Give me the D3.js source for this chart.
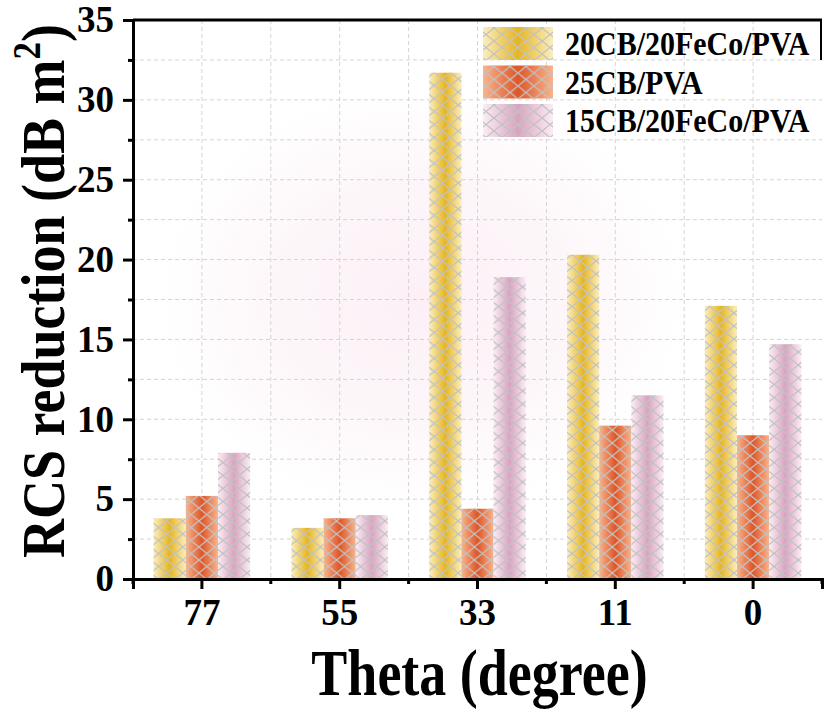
<!DOCTYPE html>
<html>
<head>
<meta charset="utf-8">
<script src="https://cdn.jsdelivr.net/npm/d3@7"></script>
<style>
  body { margin: 0; background: #fff; }
  text { font-family: "Liberation Serif", "Times New Roman", serif; font-weight: bold; }
</style>
</head>
<body>
<div id="chart"></div>
<script>
// data
const categories = ["77", "55", "33", "11", "0"];
const seriesNames = ["20CB/20FeCo/PVA", "25CB/PVA", "15CB/20FeCo/PVA"];
const cb20FeCo = [3.8, 3.2, 31.7, 20.3, 17.1];
const cb25 = [5.2, 3.8, 4.4, 9.6, 9.0];
const cb15FeCo = [7.9, 4.0, 18.9, 11.5, 14.7];
const yTicks = [0, 5, 10, 15, 20, 25, 30, 35];
const yMinorTicks = [2.5, 7.5, 12.5, 17.5, 22.5, 27.5, 32.5];

const width = 827, height = 710;
const margin = { top: 20, right: 5, bottom: 131, left: 133 };
const plotW = width - margin.left - margin.right;
const plotH = height - margin.top - margin.bottom;

// edge colour, centre colour for each series
const colors = [
    ["#fbeec0", "#e6b51f"],
    ["#f9b48c", "#dd5628"],
    ["#fbedf4", "#d8a3c0"]
];

const seriesData = [cb20FeCo, cb25, cb15FeCo];

const svg = d3.select("#chart")
    .append("svg")
    .attr("width", width)
    .attr("height", height);

const defs = svg.append("defs");

// faint pink glow in the middle of the plot
const glow = defs.append("radialGradient")
    .attr("id", "glow")
    .attr("cx", 0.42).attr("cy", 0.5).attr("r", 0.38);
glow.append("stop").attr("offset", 0).attr("stop-color", "#fcf0f6");
glow.append("stop").attr("offset", 0.55).attr("stop-color", "#fdf6f9");
glow.append("stop").attr("offset", 1).attr("stop-color", "#ffffff");

colors.forEach((c, i) => {
    const g = defs.append("linearGradient")
        .attr("id", "grad" + i)
        .attr("x1", 0).attr("x2", 1).attr("y1", 0).attr("y2", 0);
    g.append("stop").attr("offset", 0).attr("stop-color", c[0]);
    g.append("stop").attr("offset", 0.5).attr("stop-color", c[1]);
    g.append("stop").attr("offset", 1).attr("stop-color", c[0]);
});

// diamond hatch, one pattern per bar so it lines up with the bar edge
let patternCount = 0;
function hatch(x0, y0) {
    const id = "hatch" + (patternCount++);
    const p = defs.append("pattern")
        .attr("id", id)
        .attr("patternUnits", "userSpaceOnUse")
        .attr("x", x0).attr("y", y0)
        .attr("width", 16).attr("height", 13);
    p.append("path")
        .attr("d", "M0,6.5 L8,0 L16,6.5 L8,13 Z")
        .attr("fill", "none")
        .attr("stroke", "#c2c2c2")
        .attr("stroke-width", 1.3);
    return "url(#" + id + ")";
}

const g = svg.append("g")
    .attr("transform", `translate(${margin.left}, ${margin.top})`);

const x = d3.scaleBand()
    .domain(categories)
    .range([0, plotW]);

const xInner = d3.scaleBand()
    .domain(seriesNames)
    .range([0, x.bandwidth() * 0.7]);

const y = d3.scaleLinear()
    .domain([0, 35])
    .range([plotH, 0]);

g.append("rect")
    .attr("width", plotW)
    .attr("height", plotH)
    .attr("fill", "url(#glow)");

// grid lines
const gridY = yTicks.concat(yMinorTicks).filter(v => v > 0 && v < 35);
g.selectAll(".gy")
    .data(gridY)
    .join("line")
    .attr("x1", 0).attr("x2", plotW)
    .attr("y1", d => y(d)).attr("y2", d => y(d))
    .attr("stroke", "#d4d4d4")
    .attr("stroke-dasharray", "4,3");

const gridX = [];
categories.forEach((c, i) => {
    gridX.push(x(c) + x.bandwidth() / 2);
    if (i > 0) gridX.push(x(c));
});
g.selectAll(".gx")
    .data(gridX)
    .join("line")
    .attr("x1", d => d).attr("x2", d => d)
    .attr("y1", 0).attr("y2", plotH)
    .attr("stroke", "#d4d4d4")
    .attr("stroke-dasharray", "4,3");

// bars
seriesNames.forEach((name, si) => {
    const values = seriesData[si];
    categories.forEach((cat, ci) => {
        const bx = x(cat) + x.bandwidth() * 0.15 + xInner(name);
        const by = y(values[ci]);
        const bw = xInner.bandwidth();
        const bh = plotH - by;
        g.append("rect")
            .attr("x", bx).attr("y", by)
            .attr("width", bw).attr("height", bh)
            .attr("fill", "url(#grad" + si + ")");
        g.append("rect")
            .attr("x", bx).attr("y", by)
            .attr("width", bw).attr("height", bh)
            .attr("fill", hatch(margin.left + bx, margin.top + plotH));
    });
});

// y axis
const yAxis = g.append("g")
    .call(d3.axisLeft(y).tickValues(yTicks).tickSize(10).tickPadding(9));
yAxis.selectAll("text").attr("font-size", "37px").attr("fill", "#000");
yAxis.append("g")
    .call(d3.axisLeft(y).tickValues(yMinorTicks).tickSize(5).tickFormat(""))
    .select(".domain").remove();

// x axis
const xAxis = g.append("g")
    .attr("transform", `translate(0, ${plotH})`)
    .call(d3.axisBottom(x).tickSize(10).tickPadding(10));
xAxis.selectAll("text").attr("font-size", "37px").attr("fill", "#000");
xAxis.append("g")
    .call(d3.axisBottom(x).tickValues(categories).tickSize(5).tickFormat(""))
    .selectAll(".tick")
    .attr("transform", d => `translate(${x(d)},0)`);
xAxis.select("g").select(".domain").remove();
g.append("line")
    .attr("x1", plotW).attr("x2", plotW)
    .attr("y1", plotH).attr("y2", plotH + 5)
    .attr("stroke", "#000").attr("stroke-width", 3);

svg.selectAll(".domain, .tick line")
    .attr("stroke", "#000")
    .attr("stroke-width", 3);

// top frame and the short right edge next to the legend
g.append("line")
    .attr("x1", 0).attr("x2", plotW)
    .attr("y1", 0).attr("y2", 0)
    .attr("stroke", "#000").attr("stroke-width", 3);
g.append("line")
    .attr("x1", plotW - 1).attr("x2", plotW - 1)
    .attr("y1", 0).attr("y2", 40)
    .attr("stroke", "#000").attr("stroke-width", 2);

// legend
const legend = svg.append("g").attr("transform", "translate(483, 27)");
seriesNames.forEach((name, i) => {
    const ly = i * 38.5;
    legend.append("rect")
        .attr("x", 0).attr("y", ly)
        .attr("width", 70).attr("height", 33)
        .attr("fill", "url(#grad" + i + ")");
    legend.append("rect")
        .attr("x", 0).attr("y", ly)
        .attr("width", 70).attr("height", 33)
        .attr("fill", hatch(483, 27 + ly));
    legend.append("text")
        .attr("transform", `translate(82, ${ly + 28}) scale(1, 1.15)`)
        .attr("font-size", "30px")
        .text(name);
});

// axis titles
svg.append("text")
    .attr("transform", `translate(${margin.left + plotW / 2 + 2}, 695) scale(1, 1.2)`)
    .attr("text-anchor", "middle")
    .attr("font-size", "54px")
    .text("Theta (degree)");

const yTitle = svg.append("text")
    .attr("transform", `translate(64, 291) rotate(-90) scale(1, 1.15)`)
    .attr("text-anchor", "middle")
    .attr("font-size", "54px");
yTitle.append("tspan").text("RCS reduction (dB m");
yTitle.append("tspan").attr("font-size", "35px").attr("dy", -21).text("2");
yTitle.append("tspan").attr("dy", 21).text(")");
</script>
</body>
</html>
